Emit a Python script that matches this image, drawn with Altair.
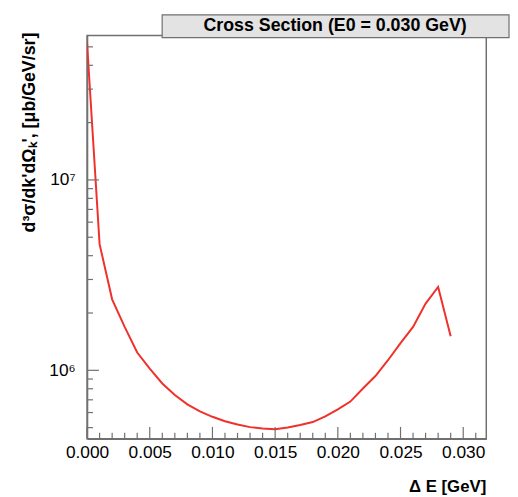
import altair as alt
import pandas as pd

# Data
delta_e = [0.000, 0.001, 0.002, 0.003, 0.004, 0.005, 0.006, 0.007, 0.008, 0.009,
           0.010, 0.011, 0.012, 0.013, 0.014, 0.015, 0.016, 0.017, 0.018, 0.019,
           0.020, 0.021, 0.022, 0.023, 0.024, 0.025, 0.026, 0.027, 0.028, 0.029]
xsec = [5.22e7, 4.60e6, 2.36e6, 1.69e6, 1.24e6, 1.02e6, 8.53e5, 7.42e5, 6.63e5, 6.08e5,
        5.70e5, 5.40e5, 5.19e5, 5.03e5, 4.95e5, 4.90e5, 5.01e5, 5.16e5, 5.35e5, 5.73e5,
        6.23e5, 6.85e5, 8.03e5, 9.33e5, 1.13e6, 1.39e6, 1.69e6, 2.24e6, 2.74e6, 1.51e6]

x_major = [0.000, 0.005, 0.010, 0.015, 0.020, 0.025, 0.030]
x_minor = [i / 1000 for i in range(0, 32) if i % 5 != 0]
y_major = [1e6, 1e7]
y_minor = [5e5, 6e5, 7e5, 8e5, 9e5, 2e6, 3e6, 4e6, 5e6, 6e6, 7e6, 8e6, 9e6,
           2e7, 3e7, 4e7, 5e7]

title_text = ["Cross Section (E0 = 0.030 GeV)"]
x_title = ["\u0394 E [GeV]"]
y_title = ["d\u00b3\u03c3/dk'd\u03a9\u2096', [\u03bcb/GeV/sr]"]

X_DOMAIN = [0.0, 0.03184]
Y_DOMAIN = [4.37e5, 5.73e7]
FONT = "Liberation Sans"
FRAME = "#707070"
W, H = 404, 408

df = pd.DataFrame({"de": delta_e, "xs": xsec})

xscale = alt.Scale(domain=X_DOMAIN, nice=False, zero=False)
yscale = alt.Scale(type="log", domain=Y_DOMAIN, nice=False)

line = alt.Chart(df).mark_line(color="#f0302a", strokeWidth=2, clip=True).encode(
    x=alt.X("de:Q", scale=xscale,
            axis=alt.Axis(values=x_major, format=".3f", ticks=False, grid=False,
                          title=None, labelFont=FONT, labelFontSize=17.5,
                          labelColor="#000", labelPadding=5, labelOverlap=False,
                          labelFlush=False,
                          domainColor=FRAME, domainWidth=1.5)),
    y=alt.Y("xs:Q", scale=yscale,
            axis=alt.Axis(values=y_major, ticks=False, grid=False, title=None,
                          labelExpr="datum.value == 1000000 ? '10\u2076' : '10\u2077'",
                          labelFont=FONT, labelFontSize=17.5, labelColor="#000",
                          labelPadding=12, labelOverlap=False, labelFlush=False,
                          domainColor=FRAME, domainWidth=1.5)),
)

xmaj = alt.Chart(pd.DataFrame({"v": x_major})).mark_rule(color=FRAME, strokeWidth=1.2).encode(
    x=alt.X("v:Q", scale=xscale), y=alt.value(H), y2=alt.value(H - 12))
xmin = alt.Chart(pd.DataFrame({"v": x_minor})).mark_rule(color=FRAME, strokeWidth=1.2).encode(
    x=alt.X("v:Q", scale=xscale), y=alt.value(H), y2=alt.value(H - 6))
ymaj = alt.Chart(pd.DataFrame({"v": y_major})).mark_rule(color=FRAME, strokeWidth=1.2).encode(
    y=alt.Y("v:Q", scale=yscale), x=alt.value(0), x2=alt.value(12))
ymin = alt.Chart(pd.DataFrame({"v": y_minor})).mark_rule(color=FRAME, strokeWidth=1.2).encode(
    y=alt.Y("v:Q", scale=yscale), x=alt.value(0), x2=alt.value(6))

tdf = pd.DataFrame({"t": title_text})
box = alt.Chart(tdf).mark_rect(fill="#e3e3e3", stroke=FRAME, strokeWidth=1.2).encode(
    x=alt.value(76), x2=alt.value(427), y=alt.value(-21), y2=alt.value(2))
title = alt.Chart(tdf).mark_text(font=FONT, fontSize=18, fontWeight="bold",
                                 color="#000", align="center", baseline="middle").encode(
    text="t:N", x=alt.value(251), y=alt.value(-10))

xt = alt.Chart(pd.DataFrame({"t": x_title})).mark_text(
    font=FONT, fontSize=17, fontWeight="bold", color="#000",
    align="right", baseline="alphabetic").encode(
    text="t:N", x=alt.value(W), y=alt.value(462))
yt = alt.Chart(pd.DataFrame({"t": y_title})).mark_text(
    font=FONT, fontSize=18, fontWeight="bold", color="#000",
    align="right", baseline="middle", angle=270).encode(
    text="t:N", x=alt.value(-58), y=alt.value(-3))

chart = alt.layer(line, xmaj, xmin, ymaj, ymin, box, title, xt, yt).properties(
    width=W, height=H,
    autosize=alt.AutoSizeParams(type="none"),
    padding={"left": 80, "top": 25, "right": 24, "bottom": 55},
    background="#ffffff",
).configure_view(stroke=FRAME, strokeWidth=1.5)

chart.save("out.html", embed_options={"renderer": "svg", "actions": False})
